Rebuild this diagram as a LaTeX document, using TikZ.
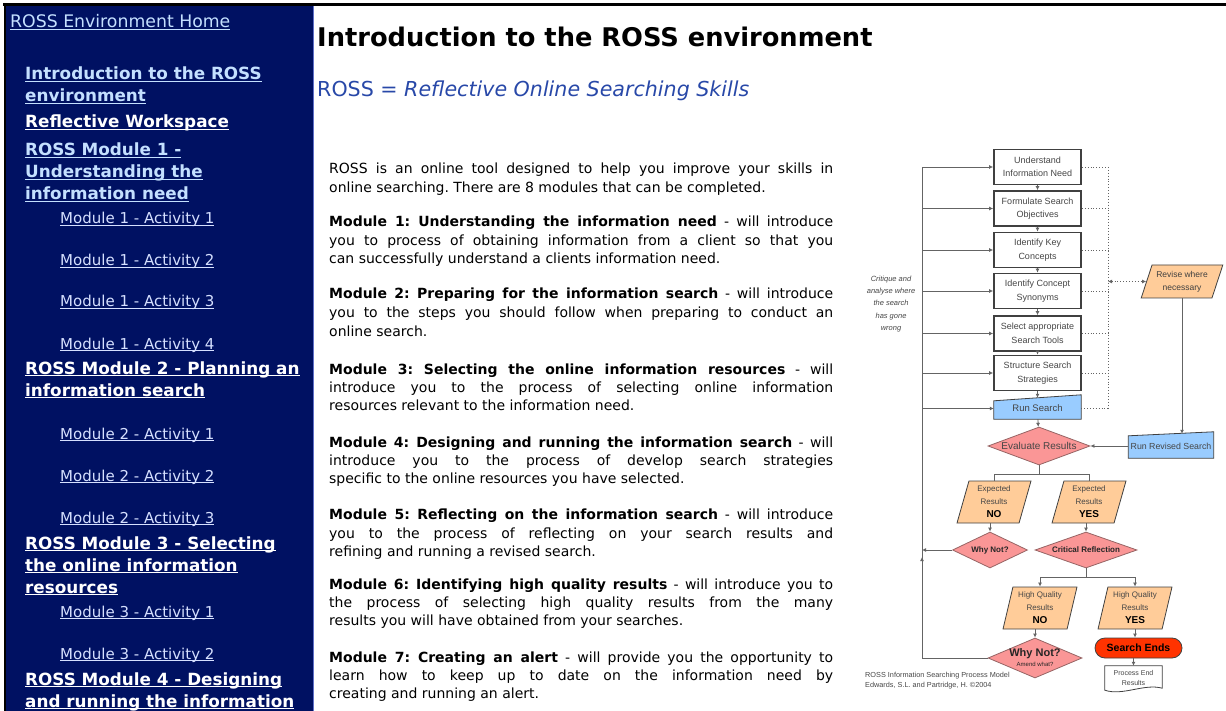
\documentclass[tikz,border=0pt]{standalone}
\usepackage{fontspec}
\usepackage{graphicx}
\setmainfont{DejaVu Sans}
\newfontfamily\chartfont{Liberation Sans}
\usetikzlibrary{shapes.geometric,arrows.meta,backgrounds,calc}
\frenchspacing

\definecolor{navback}{RGB}{0,17,98}
\definecolor{navedge}{RGB}{96,112,200}
\definecolor{linkblue}{RGB}{196,224,255}
\definecolor{linkpale}{RGB}{214,224,255}
\definecolor{subblue}{RGB}{40,72,168}
\definecolor{boxline}{RGB}{64,64,64}
\definecolor{boxtext}{RGB}{70,70,70}
\definecolor{runfill}{RGB}{153,204,255}
\definecolor{decfill}{RGB}{250,150,150}
\definecolor{decline}{RGB}{150,100,100}
\definecolor{resfill}{RGB}{255,204,153}
\definecolor{endfill}{RGB}{255,51,0}
\definecolor{flowgray}{RGB}{100,100,100}

% one justified line of the page text
\newlength\bodyw
\setlength\bodyw{504pt}
\newsavebox\linebox
\newcommand\fullline[1]{\sbox\linebox{#1}\ifdim\wd\linebox>\bodyw\resizebox{\bodyw}{\height}{\usebox\linebox}\else\hbox to\bodyw{#1}\fi}
% underlined menu link
\newsavebox\ulbox
\newcommand\navlink[1]{\sbox\ulbox{#1}\rlap{\usebox\ulbox}\rule[-2.4pt]{\wd\ulbox}{1.2pt}}

\tikzset{
  navhome/.style={anchor=base west, inner sep=0pt, text=linkblue, font=\fontsize{17.3}{20}\selectfont},
  navhead/.style={anchor=base west, inner sep=0pt, font=\bfseries\fontsize{16.8}{20}\selectfont},
  navact/.style={anchor=base west, inner sep=0pt, text=linkpale, font=\fontsize{15}{18}\selectfont},
  bodyline/.style={anchor=base west, inner sep=0pt, font=\fontsize{14}{18}\selectfont},
  stepbox/.style={draw=boxline, line width=1.7pt, fill=white, minimum width=87pt, minimum height=35pt, inner sep=0pt, align=center, text=boxtext, font=\chartfont\fontsize{9}{13.5}\selectfont},
  runbox/.style={inner sep=0pt, text=boxtext, font=\chartfont\fontsize{9.5}{11}\selectfont},
  decide/.style={diamond, draw=decline, line width=0.8pt, fill=decfill, inner sep=0pt, align=center, text=black!85, font=\chartfont\bfseries\fontsize{8}{10}\selectfont},
  result/.style={trapezium, trapezium left angle=76, trapezium right angle=104, trapezium stretches=true, draw=boxline, line width=0.8pt, fill=resfill, inner sep=0pt, align=center, minimum width=74pt, minimum height=42pt, text=boxtext, font=\chartfont\fontsize{8}{13}\selectfont},
  endbox/.style={rectangle, rounded corners=10pt, draw=boxline, line width=0.8pt, fill=endfill, minimum width=87pt, minimum height=20pt, inner sep=0pt, font=\chartfont\bfseries\fontsize{10.5}{12}\selectfont},
  flow/.style={draw=flowgray, line width=0.9pt, -{Latex[length=4pt,width=4pt]}},
  link/.style={draw=flowgray, line width=0.9pt},
  revise/.style={draw=flowgray, line width=0.9pt, dotted}
}

\begin{document}
\begin{tikzpicture}[x=1pt,y=1pt,yscale=-1]
\useasboundingbox (0,0) rectangle (1226,711);

% Page frame
\fill[navback] (5,5) rectangle (313,711);
\draw[navedge, line width=1.5pt] (313.5,5) -- (313.5,711);
\draw[black, line width=2.5pt] (3,4.5) -- (1226,4.5);
\draw[black, line width=2pt] (4.5,4) -- (4.5,711);

% Side menu
\node[navhome] (home) at (10,28) {\navlink{ROSS Environment Home}};
\node[navhead, text=linkblue] (introa) at (25,80) {\navlink{Introduction to the ROSS}};
\node[navhead, text=linkblue] (introb) at (25,102) {\navlink{environment}};
\node[navhead, text=white] (workspace) at (25,128) {\navlink{Reflective Workspace}};
\node[navhead, text=linkblue] (moda) at (25,156) {\navlink{ROSS Module 1 -}};
\node[navhead, text=linkblue] (modb) at (25,178) {\navlink{Understanding the}};
\node[navhead, text=linkblue] (modc) at (25,200) {\navlink{information need}};
\node[navact] (acta) at (60,224) {\navlink{Module 1 - Activity 1}};
\node[navact] (actb) at (60,266) {\navlink{Module 1 - Activity 2}};
\node[navact] (actc) at (60,307) {\navlink{Module 1 - Activity 3}};
\node[navact] (actd) at (60,349) {\navlink{Module 1 - Activity 4}};
\node[navhead, text=white] (modd) at (25,374) {\navlink{ROSS Module 2 - Planning an}};
\node[navhead, text=white] (mode) at (25,396) {\navlink{information search}};
\node[navact] (acte) at (60,439) {\navlink{Module 2 - Activity 1}};
\node[navact] (actf) at (60,481) {\navlink{Module 2 - Activity 2}};
\node[navact] (actg) at (60,523) {\navlink{Module 2 - Activity 3}};
\node[navhead, text=white] (modf) at (25,549) {\navlink{ROSS Module 3 - Selecting}};
\node[navhead, text=white] (modg) at (25,571) {\navlink{the online information}};
\node[navhead, text=white] (modh) at (25,593) {\navlink{resources}};
\node[navact] (acth) at (60,617) {\navlink{Module 3 - Activity 1}};
\node[navact] (acti) at (60,659) {\navlink{Module 3 - Activity 2}};
\node[navhead, text=white] (modi) at (25,685) {\navlink{ROSS Module 4 - Designing}};
\node[navhead, text=white] (modj) at (25,707) {\navlink{and running the information}};

% Headings
\node[anchor=base west, inner sep=0pt, font=\bfseries\fontsize{25.7}{30}\selectfont] (title) at (317,47) {Introduction to the ROSS environment};
\node[anchor=base west, inner sep=0pt, text=subblue, font=\fontsize{20.6}{24}\selectfont] (subtitle) at (317,97) {ROSS = \textit{Reflective Online Searching Skills}};

% Text Nodes
\node[bodyline] (pa1) at (329,174) {\fullline{ROSS is an online tool designed to help you improve your skills in}};
\node[bodyline] (pa2) at (329,193) {online searching. There are 8 modules that can be completed.};

\node[bodyline] (pb1) at (329,227) {\fullline{\textbf{Module 1: Understanding the information need} - will introduce}};
\node[bodyline] (pb2) at (329,246) {\fullline{you to process of obtaining information from a client so that you}};
\node[bodyline] (pb3) at (329,264) {can successfully understand a clients information need.};

\node[bodyline] (pc1) at (329,299) {\fullline{\textbf{Module 2: Preparing for the information search} - will introduce}};
\node[bodyline] (pc2) at (329,318) {\fullline{you to the steps you should follow when preparing to conduct an}};
\node[bodyline] (pc3) at (329,336) {online search.};

\node[bodyline] (pd1) at (329,374) {\fullline{\textbf{Module 3: Selecting the online information resources} - will}};
\node[bodyline] (pd2) at (329,392) {\fullline{introduce you to the process of selecting online information}};
\node[bodyline] (pd3) at (329,410) {resources relevant to the information need.};

\node[bodyline] (pe1) at (329,447) {\fullline{\textbf{Module 4: Designing and running the information search} - will}};
\node[bodyline] (pe2) at (329,465) {\fullline{introduce you to the process of develop search strategies}};
\node[bodyline] (pe3) at (329,483) {specific to the online resources you have selected.};

\node[bodyline] (pf1) at (329,519) {\fullline{\textbf{Module 5: Reflecting on the information search} - will introduce}};
\node[bodyline] (pf2) at (329,538) {\fullline{you to the process of reflecting on your search results and}};
\node[bodyline] (pf3) at (329,556) {refining and running a revised search.};

\node[bodyline] (pg1) at (329,589) {\fullline{\textbf{Module 6: Identifying high quality results} - will introduce you to}};
\node[bodyline] (pg2) at (329,607) {\fullline{the process of selecting high quality results from the many}};
\node[bodyline] (pg3) at (329,625) {results you will have obtained from your searches.};

\node[bodyline] (ph1) at (329,662) {\fullline{\textbf{Module 7: Creating an alert} - will provide you the opportunity to}};
\node[bodyline] (ph2) at (329,680) {\fullline{learn how to keep up to date on the information need by}};
\node[bodyline] (ph3) at (329,698) {creating and running an alert.};

% Process model
\node[stepbox] (need) at (1037.5,167) {Understand\\Information Need};
\node[stepbox] (goal) at (1037.5,208.5) {Formulate Search\\Objectives};
\node[stepbox] (keys) at (1037.5,250) {Identify Key\\Concepts};
\node[stepbox] (syno) at (1037.5,291) {Identify Concept\\Synonyms};
\node[stepbox] (tool) at (1037.5,333.5) {Select appropriate\\Search Tools};
\node[stepbox] (strat) at (1037.5,373) {Structure Search\\Strategies};
\node[runbox, minimum width=87pt, minimum height=21pt] (run) at (1037.5,408.5) {Run Search};

\node[decide, aspect=2.7, minimum width=102pt, minimum height=38pt, font=\chartfont\fontsize{10}{12}\selectfont, text=boxtext] (eval) at (1039,446) {Evaluate Results};
\node[result, trapezium left angle=66, trapezium right angle=114, minimum width=82pt, minimum height=33pt, font=\chartfont\fontsize{8.5}{13}\selectfont, text=black!75] (revise) at (1182,281.5) {Revise where\\necessary};
\node[runbox, minimum width=85pt, minimum height=24pt, font=\chartfont\fontsize{8.8}{11}\selectfont] (rerun) at (1171,446) {Run Revised Search};

\node[result] (expno) at (994,502) {Expected\\Results\\{\color{black}\bfseries\fontsize{10}{10}\selectfont NO}};
\node[result] (expyes) at (1089,502) {Expected\\Results\\{\color{black}\bfseries\fontsize{10}{10}\selectfont YES}};
\node[decide, aspect=2.1, minimum width=75pt, minimum height=36pt] (whynot) at (990,550) {Why Not?};
\node[decide, aspect=2.8, minimum width=102pt, minimum height=36pt] (reflect) at (1086,550) {Critical Reflection};

\node[result] (hqno) at (1040,608) {High Quality\\Results\\{\color{black}\bfseries\fontsize{10}{10}\selectfont NO}};
\node[result] (hqyes) at (1135,608) {High Quality\\Results\\{\color{black}\bfseries\fontsize{10}{10}\selectfont YES}};
\node[decide, aspect=2.35, minimum width=94pt, minimum height=40pt] (amend) at (1035,658) {{\fontsize{11}{12}\selectfont Why Not?}\\{\mdseries\fontsize{6}{7}\selectfont Amend what?}};
\node[endbox] (stop) at (1138.5,648) {Search Ends};
\node[runbox, minimum width=57pt, minimum height=24pt, align=center, font=\chartfont\fontsize{7}{10}\selectfont] (report) at (1133.5,678) {Process End\\Results};

\node[align=center, inner sep=0pt, text=boxtext, font=\chartfont\itshape\fontsize{7.5}{12.2}\selectfont] (critique) at (891,304) {Critique and\\analyse where\\the search\\has gone\\wrong};
\node[anchor=north west, align=left, inner sep=0pt, text=boxtext, font=\chartfont\fontsize{7.3}{10}\selectfont] (credit) at (865,672) {ROSS Information Searching Process Model\\Edwards, S.L. and Partridge, H. ©2004};

% Shapes behind the text
\begin{scope}[on background layer]
\draw[draw=boxline, line width=0.8pt, fill=runfill] (run.south west) -- (run.south east) -- ($(run.north east)+(0,-3)$) -- ($(run.north west)+(0,3)$) -- cycle;
\draw[draw=boxline, line width=0.8pt, fill=runfill] (rerun.south west) -- (rerun.south east) -- ($(rerun.north east)+(0,-2)$) -- ($(rerun.north west)+(0,2)$) -- cycle;
\draw[draw=boxline, line width=0.8pt, fill=white] (report.north west) -- (report.north east) -- ($(report.south east)+(0,-2)$) .. controls ($(report.south east)+(-18,-7)$) and ($(report.south west)+(18,6)$) .. (report.south west) -- cycle;
\end{scope}

% Straight Lines
\coordinate (backtop) at (922,167);
\coordinate (backbot) at (922,659);
\coordinate (backmid) at (922,557);
\coordinate (dotline) at (1108,167);

\foreach \a/\b in {need/goal,goal/keys,keys/syno,syno/tool,tool/strat,strat/run,run/eval}
  \draw[flow] (\a) -- (\b);
\foreach \n in {need,goal,keys,syno,tool,strat,run}
  \draw[flow] (\n.west -| backtop) -- (\n.west);
\foreach \n in {need,goal,keys,syno,tool,strat,run}
  \draw[revise] (\n.east) -- (\n.east -| dotline);
\draw[revise] (need.east -| dotline) -- (run.east -| dotline);
\draw[revise, {Latex[length=4pt,width=4pt]}-{Latex[length=4pt,width=4pt]}] (revise.west -| dotline) -- (revise.west);
\draw[flow] (revise.south) -- (revise.south |- rerun.north);
\draw[flow] (rerun) -- (eval);

\draw[link] (eval.south) -- ++(0,9) coordinate (split);
\draw[link] (split -| expno.north) -- (split -| expyes.north);
\draw[link] (split -| expno.north) -- (expno.north);
\draw[link] (split -| expyes.north) -- (expyes.north);
\draw[flow] (expno.south -| whynot.north) -- (whynot.north);
\draw[flow] (expyes.south -| reflect.north) -- (reflect.north);
\draw[flow] (whynot.west) -- (whynot.west -| backtop);

\draw[link] (reflect.south) -- ++(0,9) coordinate (fork);
\draw[link] (fork -| hqno.north) -- (fork -| hqyes.north);
\draw[flow] (fork -| hqno.north) -- (hqno.north);
\draw[flow] (fork -| hqyes.north) -- (hqyes.north);
\draw[flow] (hqno.south -| amend.north) -- (amend.north);
\draw[flow] (hqyes.south) -- (hqyes.south |- stop.north);
\draw[flow] (stop.south -| report.north) -- (report.north);

\draw[link] (amend.west) -- (amend.west -| backbot) -- (backtop);
\draw[flow] (amend.west -| backbot) -- (backmid);

\end{tikzpicture}
\end{document}
